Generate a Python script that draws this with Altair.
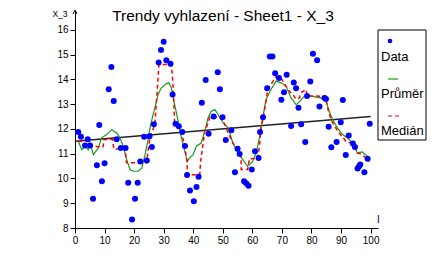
import altair as alt
import pandas as pd

# ---- data ----
data_x = [1.1, 2.0, 3.4, 4.3, 5.1, 6.1, 7.4, 8.2, 9.1, 10.0, 11.4, 12.3, 13.1, 14.1, 15.5, 17.1,
          18.0, 19.3, 20.3, 21.2, 22.1, 23.4, 24.3, 25.2, 26.0, 26.7, 28.3, 29.1, 30.0, 30.9,
          32.3, 33.0, 34.0, 35.1, 36.3, 37.2, 37.9, 38.9, 40.2, 41.1, 41.8, 42.9, 44.2, 45.2,
          46.9, 48.3, 49.0, 49.9, 51.0, 52.9, 54.1, 55.0, 55.7, 57.2, 57.9, 58.7, 59.8, 60.9,
          62.1, 62.6, 63.6, 65.0, 65.9, 66.8, 67.7, 69.0, 69.8, 70.7, 71.6, 73.1, 74.0, 74.8,
          75.6, 76.5, 77.9, 78.5, 79.6, 80.5, 81.9, 82.7, 84.4, 84.9, 85.8, 86.7, 88.5, 89.9,
          90.6, 91.6, 92.6, 94.0, 94.7, 95.6, 96.1, 96.5, 97.9, 99.0, 99.7]
data_y = [11.88, 11.68, 11.33, 11.58, 11.33, 9.18, 10.53, 12.16, 9.89, 10.61, 13.6, 14.5, 13.13,
          11.58, 11.23, 11.23, 9.83, 8.34, 9.18, 9.83, 10.68, 11.68, 10.72, 11.7, 11.27, 12.19,
          14.68, 15.19, 15.52, 14.77, 14.63, 13.39, 12.21, 12.11, 11.88, 11.31, 10.14, 9.51,
          9.08, 9.66, 10.07, 13.06, 13.97, 11.8, 12.5, 14.29, 13.6, 12.47, 11.55, 11.95, 10.25,
          11.2, 10.99, 9.89, 9.81, 9.71, 10.36, 11.1, 10.83, 11.88, 12.47, 13.64, 14.92, 14.92,
          14.25, 14.06, 13.18, 13.48, 14.19, 12.12, 13.87, 13.64, 12.85, 12.19, 11.47, 13.33,
          13.91, 15.03, 14.77, 12.9, 13.25, 13.21, 12.09, 11.26, 11.47, 12.27, 13.17, 10.95,
          11.73, 11.41, 11.27, 10.4, 10.49, 10.56, 10.25, 10.8, 12.21]

mean_x = [1.1, 2.3, 3.4, 4.5, 5.1, 6.2, 7.9, 9.0, 10.7, 12.4, 14.1, 15.2, 16.3, 17.5, 18.6, 19.7,
          21.4, 22.6, 23.7, 24.6, 25.6, 27.0, 28.1, 29.2, 30.9, 31.7, 32.6, 33.7, 34.9, 36.0,
          37.1, 38.0, 38.8, 40.0, 41.0, 42.7, 43.9, 45.0, 46.1, 47.3, 48.4, 50.1, 51.8, 53.4,
          55.1, 56.8, 58.4, 60.1, 61.3, 62.4, 63.5, 64.6, 66.3, 68.0, 69.7, 71.4, 73.1, 74.8,
          75.9, 77.6, 79.8, 83.1, 84.8, 86.0, 87.1, 88.8, 90.5, 92.1, 94.4, 95.5, 97.2, 99.5]
mean_y = [11.5, 11.16, 11.3, 11.16, 11.43, 10.96, 11.23, 11.64, 11.77, 11.97, 11.84, 11.64, 11.3,
          10.76, 10.36, 10.29, 10.29, 10.42, 10.96, 11.5, 12.17, 12.85, 13.39, 13.66, 13.82,
          13.86, 13.66, 12.98, 12.31, 11.64, 11.1, 10.69, 10.83, 10.96, 11.3, 11.43, 11.91,
          12.44, 12.71, 12.78, 12.58, 12.24, 12.04, 11.43, 11.03, 10.76, 10.49, 10.69, 11.03,
          11.64, 12.44, 13.18, 13.59, 13.93, 13.86, 13.72, 13.25, 12.98, 13.09, 13.32, 13.32,
          13.25, 13.18, 12.71, 12.38, 12.04, 11.77, 11.64, 11.37, 11.03, 11.07, 10.83]

median_x = [1.1, 2.5, 3.0, 9.5, 9.8, 12.8, 13.1, 17.0, 17.4, 24.2, 24.8, 25.4, 27.0, 27.5, 28.1,
            28.4, 32.6, 33.0, 33.3, 33.7, 34.9, 36.0, 37.1, 37.9, 38.0, 42.2, 42.5, 43.9, 44.8,
            45.6, 49.5, 50.7, 51.8, 53.4, 55.0, 56.2, 56.2, 58.4, 59.0, 61.8, 62.4, 62.9, 63.7,
            64.6, 65.2, 66.3, 68.0, 69.7, 70.3, 72.5, 73.7, 74.8, 75.9, 76.5, 78.1, 78.6, 84.8,
            85.4, 86.5, 87.6, 89.3, 90.8, 91.6, 93.3, 94.4, 95.5, 97.2, 99.5]
median_y = [11.5, 11.5, 11.3, 11.28, 11.57, 11.57, 11.19, 11.19, 10.63, 10.63, 11.19, 11.69,
            12.17, 12.98, 14.06, 14.6, 14.6, 14.06, 13.39, 12.31, 12.11, 11.88, 11.3, 10.69,
            10.15, 10.15, 10.7, 11.9, 12.17, 12.47, 12.47, 12.17, 11.84, 11.43, 11.16, 10.83,
            10.36, 10.36, 10.8, 10.8, 11.3, 12.04, 12.47, 13.11, 13.59, 13.79, 14.12, 14.06,
            13.93, 13.52, 13.39, 13.2, 13.25, 13.46, 13.59, 13.33, 13.32, 12.87, 12.42, 12.15,
            11.84, 11.64, 11.5, 11.43, 11.3, 11.03, 10.96, 10.69]

trend_x = [0, 100]
trend_y = [11.5, 12.5]

x_ticks = list(range(0, 101, 10))
y_ticks = list(range(8, 17))
legend_labels = ["Data", "Průměr", "Medián"]
title_text = "Trendy vyhlazení - Sheet1 - X_3"
x_title = "I"
y_title = "X_3"

FONT = "Liberation Sans"
BLUE = "#0000ff"
GREEN = "#1a9a1a"
RED = "#ff0000"

points_df = pd.DataFrame({"x": data_x, "y": data_y})
mean_df = pd.DataFrame({"x": mean_x, "y": mean_y, "i": range(len(mean_x))})
median_df = pd.DataFrame({"x": median_x, "y": median_y, "i": range(len(median_x))})
trend_df = pd.DataFrame({"x": trend_x, "y": trend_y})
one = pd.DataFrame({"a": [0]})

xscale = alt.Scale(domain=[0, 102.5], nice=False, zero=False)
yscale = alt.Scale(domain=[8, 16.8], nice=False, zero=False)

xaxis = alt.Axis(values=x_ticks, title=x_title, grid=False, tickSize=5, labelPadding=2,
                 labelFontSize=10, labelFont=FONT, labelColor="black", format="d",
                 labelFlush=False, labelOverlap=False, domainColor="black", tickColor="black",
                 titleX=303, titleY=-6, titleAlign="center", titleBaseline="alphabetic",
                 titleFontSize=10, titleFont=FONT, titleFontWeight="normal", titleColor="black")
yaxis = alt.Axis(values=y_ticks, title=y_title, grid=False, tickSize=5, labelPadding=2,
                 labelFontSize=10, labelFont=FONT, labelColor="black", format="d",
                 labelFlush=False, labelOverlap=False, domainColor="black", tickColor="black",
                 titleAngle=0, titleX=-8, titleY=6, titleAlign="right", titleBaseline="alphabetic",
                 titleFontSize=8.5, titleFont=FONT, titleFontWeight="normal", titleColor="black")


def xy():
    return dict(x=alt.X("x:Q", scale=xscale, axis=xaxis),
                y=alt.Y("y:Q", scale=yscale, axis=yaxis))


trend = alt.Chart(trend_df).mark_line(color="#222222", strokeWidth=1.6).encode(**xy())
mean_line = alt.Chart(mean_df).mark_line(color=GREEN, strokeWidth=1.2).encode(
    order="i:Q", **xy())
median_line = alt.Chart(median_df).mark_line(color=RED, strokeWidth=1.5,
                                               strokeDash=[4, 3]).encode(order="i:Q", **xy())
pts = alt.Chart(points_df).mark_circle(color=BLUE, size=36, opacity=1).encode(**xy())

arrow = alt.Chart(one).mark_point(shape="M-1,2L0,0L1,2", size=16, filled=False,
                                  stroke="black", strokeWidth=1, opacity=1).encode(
    x=alt.datum(0, scale=xscale, axis=xaxis), y=alt.datum(16.8, scale=yscale, axis=yaxis))

# legend box (drawn by hand, as in the reference)
leg_box = alt.Chart(one).mark_rect(fill="white", stroke="black", strokeWidth=1).encode(
    x=alt.value(303), x2=alt.value(351), y=alt.value(20), y2=alt.value(130))
leg_dot = alt.Chart(one).mark_circle(color=BLUE, size=22, opacity=1).encode(
    x=alt.value(315), y=alt.value(31))
leg_green = alt.Chart(one).mark_rule(color=GREEN, strokeWidth=1.2).encode(
    x=alt.value(313), x2=alt.value(323), y=alt.value(69))
leg_red = alt.Chart(one).mark_rule(color=RED, strokeWidth=1.2, strokeDash=[4, 3]).encode(
    x=alt.value(313), x2=alt.value(324), y=alt.value(106))
leg_texts = []
for lab, ty in zip(legend_labels, [51, 88, 125]):
    leg_texts.append(
        alt.Chart(pd.DataFrame({"label": [lab]})).mark_text(
            font=FONT, fontSize=13, align="left", baseline="alphabetic", color="black"
        ).encode(text="label:N", x=alt.value(306), y=alt.value(ty))
    )

title = alt.Chart(pd.DataFrame({"t": [title_text]})).mark_text(
    font=FONT, fontSize=15.5, align="center", baseline="alphabetic", color="black"
).encode(text="t:N", x=alt.value(148), y=alt.value(11))

chart = alt.layer(
    trend, mean_line, median_line, pts, arrow, leg_box, leg_dot, leg_green, leg_red,
    *leg_texts, title
).properties(
    width=303, height=218,
    padding={"left": 67, "top": 2, "right": 49, "bottom": 25},
    autosize="none", background="white"
).configure_view(stroke=None)

chart.save("out.html", embed_options={"renderer": "svg", "actions": False})
